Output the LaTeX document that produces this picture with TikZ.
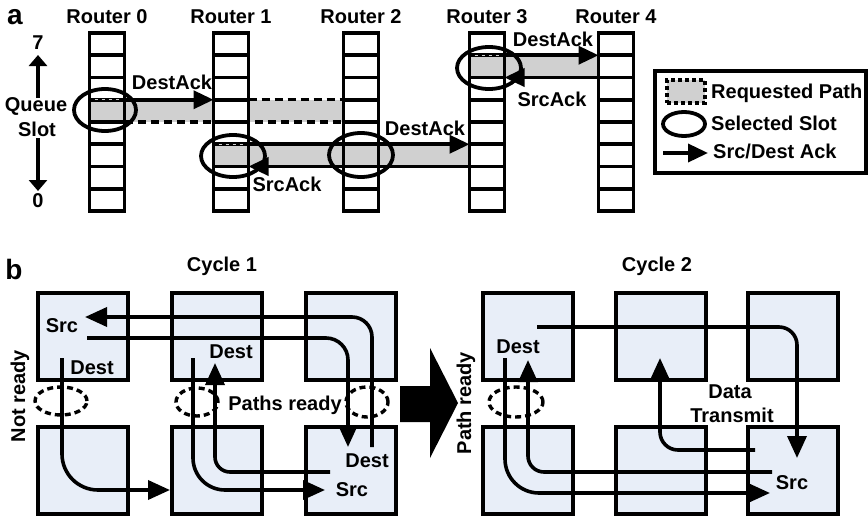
\documentclass[tikz,border=0pt]{standalone}
\usepackage{fontspec}
\setmainfont{Liberation Sans}
\usetikzlibrary{arrows.meta,shapes.geometric}
\definecolor{pathgray}{HTML}{D0D0D0}
\definecolor{boxblue}{HTML}{E8EEF8}
\begin{document}
\begin{tikzpicture}[x=1pt,y=-1pt,
  lbl/.style={font=\fontsize{20}{22}\selectfont\bfseries, inner sep=0pt},
  biglbl/.style={font=\fontsize{28}{30}\selectfont\bfseries, inner sep=0pt},
  colbg/.style={rectangle, minimum width=35pt, minimum height=178pt, inner sep=0pt, outer sep=0pt, fill=white},
  gridln/.style={line width=3.6pt},
  ack/.style={line width=3.6pt, -{Triangle[length=20pt,width=18pt]}},
  axarr/.style={line width=3.6pt, -{Triangle[length=11pt,width=18pt]}},
  reqd/.style={line width=3.4pt, dash pattern=on 8pt off 5pt},
  sel/.style={ellipse, draw, line width=3.8pt, inner sep=0pt, minimum width=62pt, minimum height=42pt},
  mbox/.style={rectangle, draw, fill=boxblue, line width=4pt, minimum width=90pt, minimum height=87pt, inner sep=0pt, outer sep=0pt, anchor=north west},
  flow/.style={line width=3.6pt, -{Triangle[length=22pt,width=19pt]}},
  dring/.style={ellipse, draw, line width=3.4pt, dash pattern=on 6pt off 4pt, inner sep=0pt, minimum height=28pt},
]
\useasboundingbox (0,0) rectangle (868,522);

% ---------------- part a ----------------
\foreach \i/\cx in {0/107,1/231,2/361,3/487,4/616}{
  \node[colbg] (r\i) at (\cx,122) {};
  \node[lbl] (rl\i) at (\cx,17) {Router \i};
}
\coordinate (y6t) at (0,55.25);
\coordinate (y6b) at (0,77.5);
\coordinate (y4t) at (0,99.75);
\coordinate (y4b) at (0,122);
\coordinate (y2t) at (0,144.25);
\coordinate (y2b) at (0,166.5);

% requested paths (grey)
\fill[pathgray] (r0.west |- y4t) rectangle (r1.west |- y4b);
\fill[pathgray] (r1.east |- y4t) rectangle (r2.west |- y4b);
\fill[pathgray] (r1.west |- y2t) rectangle (r3.west |- y2b);
\fill[pathgray] (r3.west |- y6t) rectangle (r4.west |- y6b);

% acks and dashed borders
\draw[ack] (r0.east |- y4t) -- (r1.west |- y4t);
\draw[reqd] (r1.east |- y4t) -- (r2.west |- y4t);
\draw[reqd] (r0.east |- y4b) -- (r2.west |- y4b);
\draw[ack] (r1.east |- y2t) -- (r3.west |- y2t);
\draw[ack] (r3.west |- y2b) -- (r1.east |- y2b);
\draw[ack] (r3.east |- y6t) -- (r4.west |- y6t);
\draw[ack] (r4.west |- y6b) -- (r3.east |- y6b);

% queue columns
\foreach \i in {0,...,4}{
  \draw[gridln] (r\i.north west) rectangle (r\i.south east);
  \foreach \k in {1,...,7}{
    \draw[gridln] (r\i.west) ++(0,{22.25*\k-89}) -- ++(35,0);
  }
}
% dashed look of the slot tops in the source routers
\draw[pathgray, line width=1.4pt, dash pattern=on 3pt off 4pt] ([xshift=5pt]r0.west |- y4t) -- ([xshift=-5pt]r0.east |- y4t);
\draw[pathgray, line width=1.4pt, dash pattern=on 3pt off 4pt] ([xshift=5pt]r1.west |- y2t) -- ([xshift=-5pt]r1.east |- y2t);
\draw[pathgray, line width=1.4pt, dash pattern=on 3pt off 4pt] ([xshift=5pt]r3.west |- y6t) -- ([xshift=-5pt]r3.east |- y6t);

% selected slots
\node[sel] (e0) at (105,110) {};
\node[sel, minimum width=64pt] (e1) at (233,156) {};
\node[sel, minimum width=64pt, minimum height=44pt] (e2) at (361,155) {};
\node[sel, minimum width=64pt] (e3) at (489,68) {};

% ack labels
\node[lbl] (da1) at (172,82) {DestAck};
\node[lbl] (sa1) at (287,184) {SrcAck};
\node[lbl] (da2) at (425,128) {DestAck};
\node[lbl] (da3) at (553,39) {DestAck};
\node[lbl] (sa3) at (552,99) {SrcAck};

% axis
\node[biglbl] (la) at (15,17) {a};
\node[lbl] (n7) at (38,43) {7};
\node[lbl] (nq) at (36,106) {Queue};
\node[lbl] (ns) at (37,129) {Slot};
\node[lbl] (n0) at (38,201) {0};
\coordinate (ax1) at (38,98);
\coordinate (ax2) at (38,55);
\coordinate (ax3) at (38,138);
\coordinate (ax4) at (38,191);
\draw[axarr] (ax1) -- (ax2);
\draw[axarr] (ax3) -- (ax4);

% legend
\node[draw, line width=3.6pt, rectangle, minimum width=211pt, minimum height=102pt, anchor=north west, inner sep=0pt, outer sep=0pt] (leg) at (655,71) {};
\node[rectangle, draw, fill=pathgray, dash pattern=on 4pt off 3pt, line width=3.4pt, minimum width=38pt, minimum height=23pt, inner sep=0pt] (legp) at (686,91.5) {};
\node[lbl, anchor=west] (legpt) at (711,93) {Requested Path};
\node[sel, minimum width=42pt, minimum height=24pt] (lege) at (684,124) {};
\node[lbl, anchor=west] (leget) at (711,123) {Selected Slot};
\coordinate (lega1) at (663,153);
\coordinate (lega2) at (708,153);
\draw[ack] (lega1) -- (lega2);
\node[lbl, anchor=west] (legat) at (713,151) {Src/Dest Ack};

% ---------------- part b ----------------
\node[biglbl] (lb) at (14,269) {b};
\node[lbl] (cy1) at (222,266) {Cycle 1};
\node[lbl] (cy2) at (657,266) {Cycle 2};

\foreach \c/\x in {1/38,2/172,3/306}{
  \node[mbox] (a1\c) at (\x,293) {};
  \node[mbox] (a2\c) at (\x,427) {};
}
\foreach \c/\x in {1/483,2/616,3/748}{
  \node[mbox] (b1\c) at (\x,293) {};
  \node[mbox] (b2\c) at (\x,427) {};
}

% dashed link rings
\node[dring, minimum width=52pt] (d1) at (61,401) {};
\node[dring, minimum width=42pt] (d2) at (197,402) {};
\node[dring, minimum width=42pt, minimum height=30pt] (d3) at (367,402) {};
\node[dring, minimum width=54pt, minimum height=30pt] (d4) at (516,402) {};

% cycle 1 flows
\coordinate (pA1) at (372,447); \coordinate (pA2) at (85,317);
\draw[flow, rounded corners=20pt] (pA1) |- (pA2);
\coordinate (pB1) at (87,338); \coordinate (pB2) at (348,447);
\draw[flow, rounded corners=22pt] (pB1) -| (pB2);
\coordinate (pC1) at (62,358); \coordinate (pC2) at (170,490);
\draw[flow, rounded corners=36pt] (pC1) |- (pC2);
\coordinate (pD1) at (193,358); \coordinate (pD2) at (325,490);
\draw[flow, rounded corners=32pt] (pD1) |- (pD2);
\coordinate (pE1) at (330,472); \coordinate (pE2) at (215,363);
\draw[flow, rounded corners=15pt] (pE1) -| (pE2);

% cycle 2 flows
\coordinate (pF1) at (537,327); \coordinate (pF2) at (797,458);
\draw[flow, rounded corners=18pt] (pF1) -| (pF2);
\coordinate (pH1) at (505,358); \coordinate (pH2) at (770,493);
\draw[flow, rounded corners=34pt] (pH1) |- (pH2);
\coordinate (pI1) at (772,472); \coordinate (pI2) at (528,360);
\draw[flow, rounded corners=16pt] (pI1) -| (pI2);
\coordinate (pJ1) at (755,450); \coordinate (pJ2) at (660,358);
\draw[flow, rounded corners=18pt] (pJ1) -| (pJ2);

% labels part b
\node[lbl] (s1) at (62,326) {Src};
\node[lbl] (t1) at (92,368) {Dest};
\node[lbl] (t2) at (231,352) {Dest};
\node[lbl] (t3) at (367,461) {Dest};
\node[lbl] (s3) at (352,490) {Src};
\node[lbl] (pr1) at (285,405) {Paths ready};
\node[lbl] (t4) at (518,347) {Dest};
\node[lbl] (s4) at (792,483) {Src};
\node[lbl] (dt1) at (730,392) {Data};
\node[lbl] (dt2) at (732,415) {Transmit};
\node[lbl, rotate=90] (nr) at (20,396) {Not ready};
\node[lbl, rotate=90] (pr) at (466,403) {Path ready};

% big transition arrow
\fill (400,386) -- (430,386) -- (430,348) -- (458,403) -- (430,458) -- (430,422) -- (400,422) -- cycle;
\end{tikzpicture}
\end{document}
